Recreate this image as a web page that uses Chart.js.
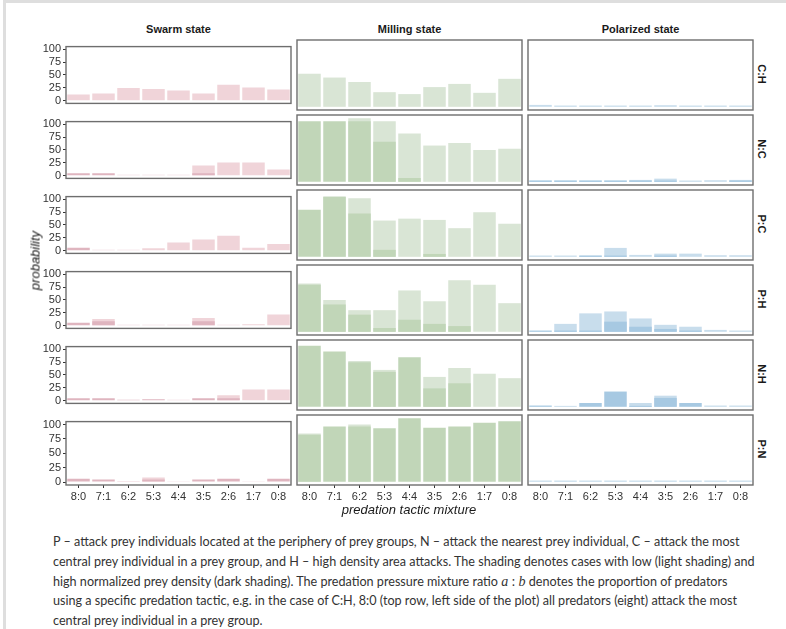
<!DOCTYPE html>
<html>
<head>
<meta charset="utf-8">
<script src="https://cdn.jsdelivr.net/npm/chart.js@4.4.0/dist/chart.umd.min.js"></script>
<style>
  body { margin: 0; background: #fff; width: 786px; height: 629px; overflow: hidden; position: relative; font-family: "Liberation Sans", Arial, sans-serif; }
  .frameL { position: absolute; left: 3px; top: 0; width: 3px; height: 629px; background: #dedede; }
  .frameT { position: absolute; left: 3px; top: 0; width: 783px; height: 3px; background: #dedede; }
  canvas { position: absolute; }
  .strip { position: absolute; font-weight: bold; font-size: 11px; color: #1a1a1a; text-align: center; }
  .stripR { position: absolute; font-weight: bold; font-size: 11px; color: #1a1a1a; transform: rotate(90deg); transform-origin: center; width: 40px; text-align: center; }
  .axtitle { position: absolute; font-style: italic; font-size: 13px; color: #1a1a1a; }
  .caption { position: absolute; left: 53px; top: 532px; font-family: Lato, "Noto Sans", sans-serif; font-size: 12.6px; color: #333; line-height: 19.8px; white-space: nowrap; }
  .ab { font-family: "Liberation Serif", serif; font-style: italic; font-size: 14px; }
</style>
</head>
<body>
<div class="frameL"></div>
<div class="frameT"></div>
<div id="root"></div>
<div class="axtitle" id="ytitle" style="left: 0px; top: 253px; width: 70px; text-align:center; transform: rotate(-90deg);">probability</div>
<div class="axtitle" style="left: 297px; top: 502px; width: 224px; text-align:center;">predation tactic mixture</div>
<div class="caption">
P – attack prey individuals located at the periphery of prey groups, N – attack the nearest prey individual, C – attack the most<br>
central prey individual in a prey group, and H – high density area attacks. The shading denotes cases with low (light shading) and<br>
high normalized prey density (dark shading). The predation pressure mixture ratio <span class="ab">a</span> <span class="ab" style="font-style:normal">:</span> <span class="ab">b</span> denotes the proportion of predators<br>
using a specific predation tactic, e.g. in the case of C:H, 8:0 (top row, left side of the plot) all predators (eight) attack the most<br>
central prey individual in a prey group.
</div>
<script>
// categories
const mixtures = ['8:0', '7:1', '6:2', '5:3', '4:4', '3:5', '2:6', '1:7', '0:8'];
const stateNames = ['Swarm state', 'Milling state', 'Polarized state'];
const tacticPairs = ['C:H', 'N:C', 'P:C', 'P:H', 'N:H', 'P:N'];
const yTickValues = [0, 25, 50, 75, 100];

// probability (%) per row of tacticPairs, low density (light) and high density (dark)
const swarmLow = [
  [12, 14, 25, 23, 20, 14, 31, 26, 22],
  [0, 0, 2, 2, 2, 20, 26, 26, 12],
  [0, 2, 2, 5, 16, 22, 29, 6, 13],
  [0, 13, 2, 2, 2, 15, 2, 3, 22],
  [0, 0, 0, 0, 2, 0, 11, 22, 22],
  [0, 0, 2, 8, 1.5, 0, 0, 1.5, 0]
];
const swarmHigh = [
  [0, 0, 0, 0, 0, 0, 0, 0, 0],
  [5, 5, 0, 0, 0, 5, 0, 0, 0],
  [6, 0, 0, 0, 0, 0, 0, 0, 0],
  [6, 9, 0, 0, 0, 9, 0, 0, 0],
  [5, 5, 2, 3, 0, 5, 5, 0, 0],
  [6, 4.5, 0, 4.5, 0, 4.5, 6, 0, 6]
];
const millingLow = [
  [52, 46, 39, 23, 20, 31, 36, 22, 44],
  [0, 0, 100, 95, 76, 57, 61, 50, 52],
  [0, 95, 92, 57, 60, 58, 45, 70, 52],
  [76, 50, 34, 34, 65, 48, 81, 74, 45],
  [0, 0, 72, 58, 0, 47, 61, 52, 45],
  [76, 0, 90, 0, 0, 0, 0, 0, 0]
];
const millingHigh = [
  [0, 0, 0, 0, 0, 0, 0, 0, 0],
  [95, 95, 95, 63, 6, 0, 0, 0, 0],
  [74, 94, 68, 11, 0, 4.5, 0, 0, 0],
  [74, 43, 27, 6, 19, 12.5, 9, 0, 0],
  [96, 87, 70, 55, 78, 29, 37, 0, 0],
  [74, 87, 87, 84, 100, 85, 87, 93, 95]
];
const polarLow = [
  [3, 2, 2, 2, 2, 2.5, 2, 2, 2],
  [2, 2, 2, 2, 3, 5, 2, 2.5, 3],
  [2, 2, 2.5, 14, 3, 5, 5, 2.5, 2.5],
  [0, 12.5, 29, 32, 21, 11, 8, 3, 2],
  [0, 1.5, 0, 0, 6, 17.5, 0, 2, 2],
  [2, 2, 2, 2, 2, 2, 2, 2, 2]
];
const polarHigh = [
  [0, 0, 0, 0, 0, 0, 0, 0, 0],
  [2, 2, 2, 2, 2, 2, 0, 0, 2],
  [0, 0, 1.5, 2, 0, 2, 0, 0, 0],
  [2, 2, 2, 16, 8, 4.5, 2, 0, 0],
  [2, 0, 6, 24, 1.5, 14, 6, 0, 0],
  [0, 0, 0, 0, 0, 0, 0, 0, 0]
];

const lowByState = [swarmLow, millingLow, polarLow];
const highByState = [swarmHigh, millingHigh, polarHigh];
const lightColors = ['#f0d4d9', '#d9e5d5', '#c8ddec'];
const darkColors = ['#dfb5bf', '#c1d6b8', '#a7c9e2'];

const panelLeft = [66, 297, 528];
const panelTop = [40, 115, 190, 265, 340, 415];
const panelW = 225, panelH = 70;
const yAxisW = 40, xAxisH = 22, pad = 2;
const tickFont = { family: '"Liberation Sans", Arial, sans-serif', size: 11 };

const panelBorder = {
  id: 'panelBorder',
  afterDraw(chart) {
    const a = chart.chartArea;
    const ctx = chart.ctx;
    ctx.save();
    ctx.strokeStyle = '#6e6e6e';
    ctx.lineWidth = 1.4;
    ctx.strokeRect(a.left, a.top, a.right - a.left, a.bottom - a.top);
    ctx.restore();
  }
};

const root = document.getElementById('root');

stateNames.forEach((name, c) => {
  const t = document.createElement('div');
  t.className = 'strip';
  t.style.left = panelLeft[c] + 'px';
  t.style.width = panelW + 'px';
  t.style.top = '23px';
  t.textContent = name;
  root.appendChild(t);
});

tacticPairs.forEach((name, r) => {
  const t = document.createElement('div');
  t.className = 'stripR';
  t.style.left = (762 - 20) + 'px';
  t.style.top = (panelTop[r] + panelH / 2 - 7) + 'px';
  t.textContent = name;
  root.appendChild(t);
});

for (let r = 0; r < tacticPairs.length; r++) {
  for (let c = 0; c < stateNames.length; c++) {
    const showX = r === tacticPairs.length - 1;
    const showY = c === 0;
    const cv = document.createElement('canvas');
    const w = panelW + 2 * pad + (showY ? yAxisW : 0);
    const h = panelH + 2 * pad + (showX ? xAxisH : 0);
    cv.width = w;
    cv.height = h;
    cv.style.width = w + 'px';
    cv.style.height = h + 'px';
    cv.style.left = (panelLeft[c] - pad - (showY ? yAxisW : 0)) + 'px';
    cv.style.top = (panelTop[r] - pad) + 'px';
    root.appendChild(cv);

    new Chart(cv, {
      type: 'bar',
      data: {
        labels: mixtures,
        datasets: [
          { label: 'high density', data: highByState[c][r], backgroundColor: darkColors[c] },
          { label: 'low density', data: lowByState[c][r], backgroundColor: lightColors[c] }
        ]
      },
      options: {
        responsive: false,
        animation: false,
        layout: { padding: pad },
        plugins: { legend: { display: false }, tooltip: { enabled: false } },
        datasets: { bar: { grouped: false, barPercentage: 0.9, categoryPercentage: 1 } },
        scales: {
          x: {
            display: showX,
            grid: { offset: false, drawOnChartArea: false, tickLength: 3, color: '#333' },
            border: { display: false },
            ticks: { font: tickFont, color: '#333', padding: 2, maxRotation: 0, autoSkip: false },
            afterFit: s => { if (showX) s.height = xAxisH; }
          },
          y: {
            display: showY,
            min: -5,
            max: 105,
            afterBuildTicks: s => { s.ticks = yTickValues.map(v => ({ value: v })); },
            grid: { drawOnChartArea: false, tickLength: 3, color: '#333' },
            border: { display: false },
            ticks: { font: tickFont, color: '#333', padding: 2, autoSkip: false },
            afterFit: s => { if (showY) s.width = yAxisW; }
          }
        }
      },
      plugins: [panelBorder]
    });
  }
}
</script>
</body>
</html>
